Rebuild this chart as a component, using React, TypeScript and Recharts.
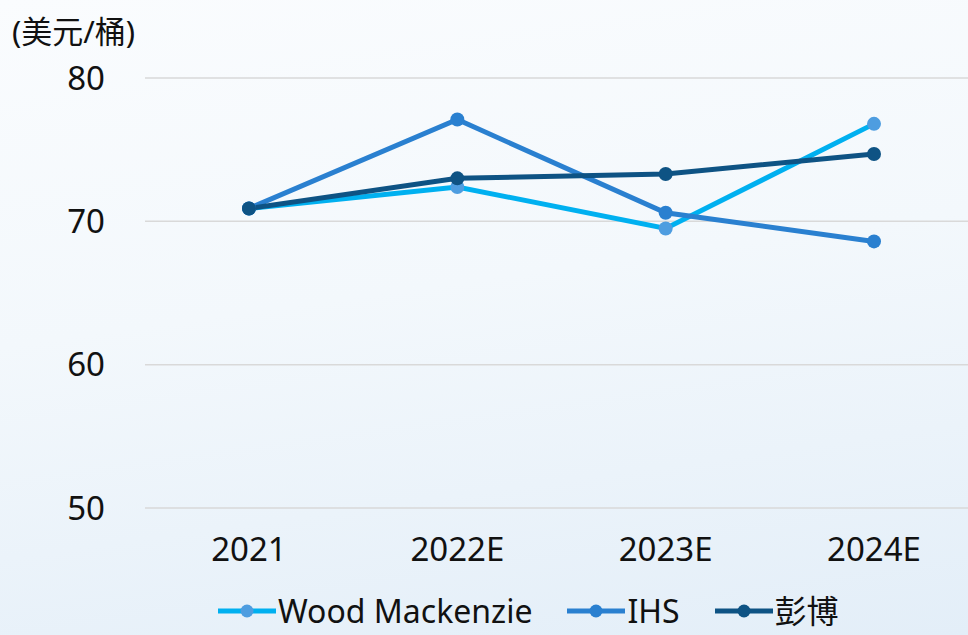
import { LineChart, Line, XAxis, YAxis, CartesianGrid, Legend } from "recharts";

const years = ["2021", "2022E", "2023E", "2024E"];
const woodMackenzie = [70.9, 72.4, 69.5, 76.8];
const ihs = [70.9, 77.1, 70.6, 68.6];
const bloomberg = [70.9, 73.0, 73.3, 74.7];
const yTicks = [50, 60, 70, 80];

const series = [
  { key: "wm", name: "Wood Mackenzie", line: "#00b0f0", dot: "#4e9de0" },
  { key: "ihs", name: "IHS", line: "#2a80d0", dot: "#2a80d0" },
  { key: "bb", name: "彭博", line: "#0e5384", dot: "#0e5384" },
];

const data = years.map((y, i) => ({
  year: y,
  wm: woodMackenzie[i],
  ihs: ihs[i],
  bb: bloomberg[i],
}));

const FONT = '"Noto Sans", "Noto Sans CJK SC", sans-serif';

function LegendContent() {
  return (
    <div style={{ display: "flex", alignItems: "center", height: 36, marginLeft: 218, fontFamily: FONT, fontSize: 32, color: "#111" }}>
      {series.map((s) => (
        <div key={s.key} style={{ display: "flex", alignItems: "center", marginRight: 35 }}>
          <svg width={58} height={20} style={{ display: "block", marginRight: 2 }}>
            <line x1={0} y1={10} x2={58} y2={10} stroke={s.line} strokeWidth={5} />
            <circle cx={29} cy={10} r={6.5} fill={s.dot} />
          </svg>
          <span style={{ lineHeight: "36px" }}>{s.name}</span>
        </div>
      ))}
    </div>
  );
}

export default function App() {
  return (
    <div
      style={{
        position: "fixed",
        top: 0,
        left: 0,
        width: 968,
        height: 635,
        overflow: "hidden",
        background: "linear-gradient(172deg, #fafcfe 0%, #f3f8fc 45%, #e3eef8 100%)",
      }}
    >
      <div style={{ position: "absolute", left: 12, top: 7, fontFamily: FONT, fontSize: 31, color: "#111" }}>
        (美元/桶)
      </div>
      <LineChart width={980} height={629} data={data} margin={{ top: 78, right: 2, left: 0, bottom: 0 }}>
        <CartesianGrid vertical={false} stroke="#d9d9d9" strokeWidth={1.5} />
        <XAxis
          dataKey="year"
          axisLine={false}
          tickLine={false}
          tickSize={0}
          tickMargin={30}
          height={85}
          padding={{ left: 104, right: 104 }}
          tick={{ fontSize: 33, fill: "#111", fontFamily: FONT }}
        />
        <YAxis
          domain={[50, 80]}
          ticks={yTicks}
          axisLine={false}
          tickLine={false}
          tickSize={0}
          tickMargin={40}
          width={145}
          tick={{ fontSize: 33, fill: "#111", fontFamily: FONT }}
        />
        <Legend verticalAlign="bottom" content={<LegendContent />} wrapperStyle={{ left: 0, width: 968 }} />
        {series.map((s) => (
          <Line
            key={s.key}
            dataKey={s.key}
            name={s.name}
            stroke={s.line}
            strokeWidth={5}
            dot={{ r: 7, fill: s.dot, stroke: "none" }}
            activeDot={false}
            isAnimationActive={false}
          />
        ))}
      </LineChart>
    </div>
  );
}
